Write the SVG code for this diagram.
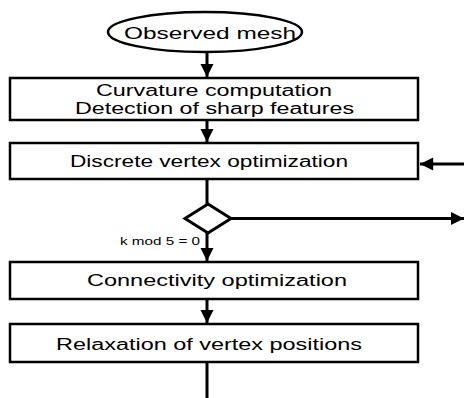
<svg xmlns="http://www.w3.org/2000/svg" width="464" height="398" viewBox="0 0 464 398">
<defs>
<style>
.box{fill:#fff;stroke:#000;stroke-width:2.5}
.t{font-family:"Liberation Sans",Arial,Helvetica,sans-serif;font-size:16px;fill:#000;text-anchor:middle}
.s{font-family:"Liberation Sans",Arial,Helvetica,sans-serif;font-size:10.5px;fill:#000}
.c{fill:none;stroke:#000;stroke-width:3}
</style>
<marker id="ah" viewBox="0 0 10 10" refX="10" refY="5" markerWidth="4.6" markerHeight="4.4" markerUnits="strokeWidth" orient="auto">
<path d="M0,0 L10,5 L0,10 z" fill="#000"/>
</marker>
</defs>
<g id="connectors">
<line class="c" x1="207" y1="52" x2="207" y2="77" marker-end="url(#ah)"/>
<line class="c" x1="207" y1="121" x2="207" y2="142" marker-end="url(#ah)"/>
<line class="c" x1="464" y1="164" x2="420" y2="164" marker-end="url(#ah)"/>
<line class="c" x1="207" y1="179" x2="207" y2="204"/>
<line class="c" x1="231" y1="218.5" x2="464" y2="218.5" marker-end="url(#ah)"/>
<line class="c" x1="207" y1="233" x2="207" y2="261" marker-end="url(#ah)"/>
<line class="c" x1="207" y1="299" x2="207" y2="323" marker-end="url(#ah)"/>
<line class="c" x1="207" y1="362" x2="207" y2="398"/>
</g>
<g id="observed">
<ellipse class="box" cx="205" cy="32" rx="97" ry="20"/>
<text class="t" x="210" y="38.5" font-size="18" textLength="172" lengthAdjust="spacingAndGlyphs">Observed mesh</text>
</g>
<g id="curvature">
<rect class="box" x="10" y="78" width="408" height="42"/>
<text class="t" x="214" y="96" textLength="236" lengthAdjust="spacingAndGlyphs">Curvature computation</text>
<text class="t" x="214.5" y="114" textLength="279" lengthAdjust="spacingAndGlyphs">Detection of sharp features</text>
</g>
<g id="discrete">
<rect class="box" x="10" y="143" width="408" height="36"/>
<text class="t" x="209" y="167" textLength="278" lengthAdjust="spacingAndGlyphs">Discrete vertex optimization</text>
</g>
<g id="decision">
<polygon class="box" points="208,204 231,218.5 208,233 185,218.5" style="stroke-width:3"/>
<text class="s" x="120" y="245" textLength="80" lengthAdjust="spacingAndGlyphs">k mod 5 = 0</text>
</g>
<g id="connectivity">
<rect class="box" x="10" y="262" width="408" height="37"/>
<text class="t" x="217" y="286" textLength="260" lengthAdjust="spacingAndGlyphs">Connectivity optimization</text>
</g>
<g id="relaxation">
<rect class="box" x="10" y="324" width="408" height="38"/>
<text class="t" x="209" y="349.5" textLength="306" lengthAdjust="spacingAndGlyphs">Relaxation of vertex positions</text>
</g>
</svg>
